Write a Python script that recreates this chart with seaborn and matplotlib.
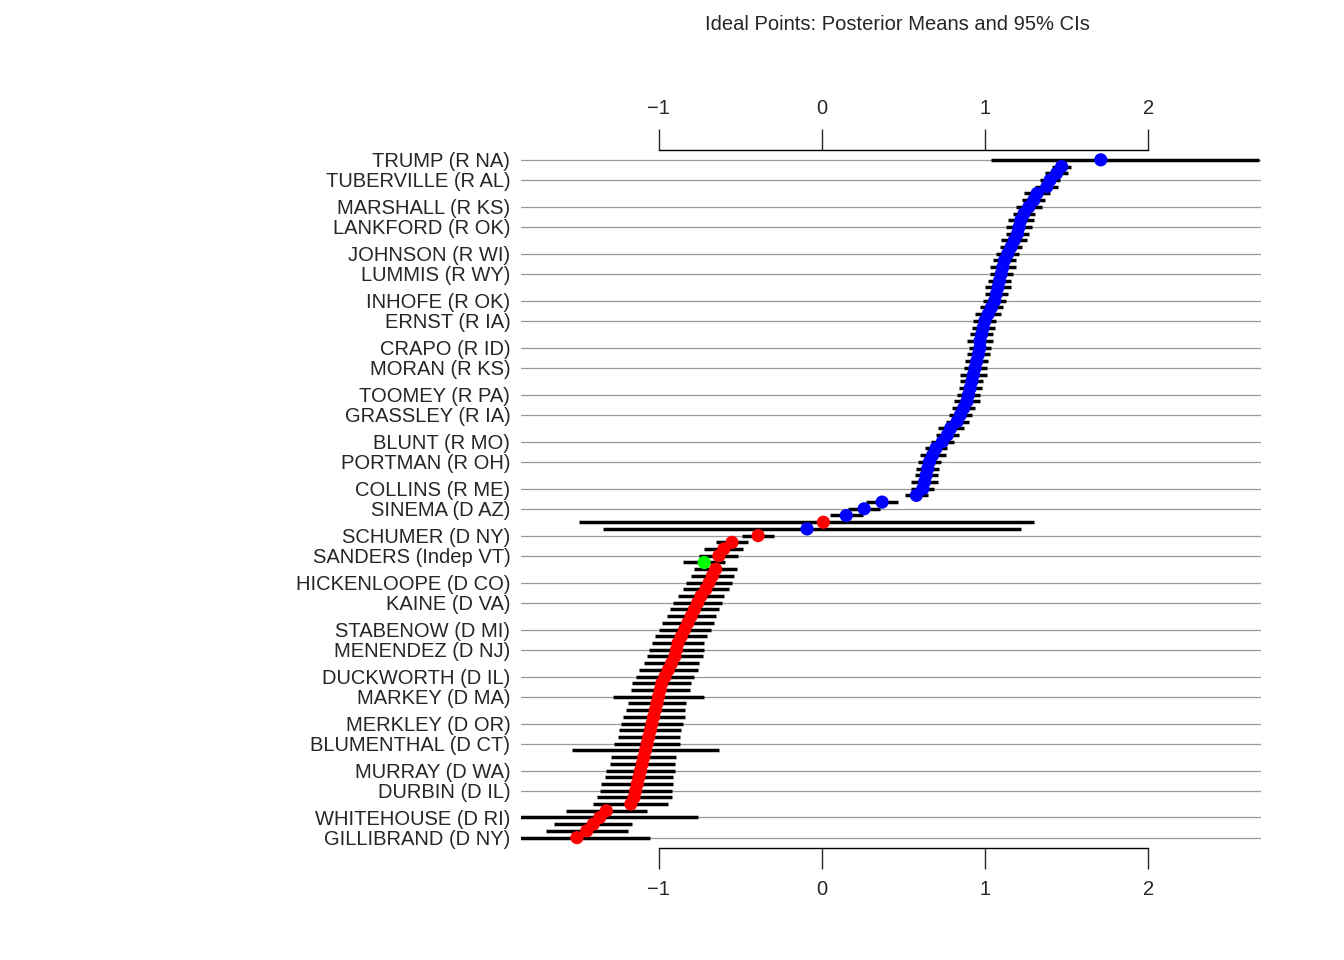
import matplotlib
matplotlib.use("Agg")
import matplotlib.pyplot as plt
import seaborn as sns
import pandas as pd
import numpy as np

# ── Data (top of chart first) ──────────────────────────────────
means = [1.71,
         1.47, 1.44, 1.40, 1.38, 1.32, 1.30, 1.27, 1.24, 1.22, 1.21,
         1.20, 1.18, 1.16, 1.14, 1.12, 1.11, 1.10, 1.09, 1.08, 1.07,
         1.06, 1.04, 1.02, 1.00, 0.99, 0.98, 0.97, 0.97, 0.96, 0.95,
         0.94, 0.93, 0.92, 0.91, 0.90, 0.89, 0.87, 0.85, 0.83, 0.79,
         0.77, 0.74, 0.70, 0.68, 0.66, 0.65, 0.64, 0.63, 0.62, 0.58,
         0.37, 0.26, 0.15, 0.01, -0.09, -0.39,
         -0.55, -0.60, -0.63, -0.72, -0.65, -0.67, -0.69, -0.71, -0.74, -0.76,
         -0.78, -0.80, -0.82, -0.84, -0.86, -0.88, -0.89, -0.90, -0.92, -0.94,
         -0.96, -0.98, -0.99, -1.00, -1.01, -1.02, -1.03, -1.04, -1.05, -1.06,
         -1.07, -1.08, -1.09, -1.10, -1.11, -1.12, -1.13, -1.14, -1.15, -1.17,
         -1.32, -1.36, -1.40, -1.44, -1.50]
halfwidth = [0.0,
             0.06, 0.07, 0.06, 0.07, 0.08, 0.07, 0.08, 0.07, 0.08, 0.08,
             0.07, 0.08, 0.07, 0.07, 0.07, 0.08, 0.07, 0.07, 0.08, 0.07,
             0.07, 0.07, 0.08, 0.07, 0.07, 0.07, 0.08, 0.07, 0.07, 0.07,
             0.07, 0.08, 0.07, 0.07, 0.07, 0.08, 0.07, 0.07, 0.07, 0.08,
             0.07, 0.07, 0.07, 0.08, 0.07, 0.07, 0.07, 0.08, 0.07, 0.07,
             0.10, 0.10, 0.10, 0.0, 0.0, 0.10,
             0.10, 0.12, 0.12, 0.13, 0.13, 0.13, 0.14, 0.14, 0.14, 0.15,
             0.15, 0.15, 0.16, 0.16, 0.16, 0.16, 0.17, 0.17, 0.17, 0.18,
             0.18, 0.18, 0.18, 0.28, 0.18, 0.18, 0.19, 0.19, 0.19, 0.19,
             0.20, 0.45, 0.20, 0.20, 0.21, 0.21, 0.22, 0.22, 0.23, 0.23,
             0.25, 0.60, 0.24, 0.25, 0.45]
# points with asymmetric/wide intervals: (index, low, high)
wide_ci = [(0, 1.04, 2.68), (54, -1.49, 1.30), (55, -1.34, 1.22)]
party = ["R"] * 54 + ["D", "R", "D"] + ["D"] * 3 + ["I"] + ["D"] * 41

labels = ["TRUMP (R NA)", "TUBERVILLE (R AL)", "MARSHALL (R KS)", "LANKFORD (R OK)",
          "JOHNSON (R WI)", "LUMMIS (R WY)", "INHOFE (R OK)", "ERNST (R IA)",
          "CRAPO (R ID)", "MORAN (R KS)", "TOOMEY (R PA)", "GRASSLEY (R IA)",
          "BLUNT (R MO)", "PORTMAN (R OH)", "COLLINS (R ME)", "SINEMA (D AZ)",
          "SCHUMER (D NY)", "SANDERS (Indep VT)", "HICKENLOOPE (D CO)", "KAINE (D VA)",
          "STABENOW (D MI)", "MENENDEZ (D NJ)", "DUCKWORTH (D IL)", "MARKEY (D MA)",
          "MERKLEY (D OR)", "BLUMENTHAL (D CT)", "MURRAY (D WA)", "DURBIN (D IL)",
          "WHITEHOUSE (D RI)", "GILLIBRAND (D NY)"]

n = len(means)
df = pd.DataFrame({"mean": means, "hw": halfwidth, "party": party})
df["pos"] = np.arange(n)
df["lo"] = df["mean"] - df["hw"]
df["hi"] = df["mean"] + df["hw"]
for i, lo, hi in wide_ci:
    df.loc[i, "lo"] = lo
    df.loc[i, "hi"] = hi

label_pos = [round(k * (n - 1) / (len(labels) - 1)) for k in range(len(labels))]

# ── Plot ───────────────────────────────────────────────────────
sns.set_style("white")
plt.rcParams["font.family"] = ["Liberation Sans", "DejaVu Sans"]

fig = plt.figure(figsize=(13.44, 9.6), dpi=100)
ax = fig.add_axes([0.388, 0.117, 0.55, 0.727])

for p in label_pos:
    ax.axhline(p, color="#999999", lw=0.9, zorder=0)
ax.hlines(df["pos"], df["lo"], df["hi"], color="black", lw=2.5, zorder=1)
sns.scatterplot(data=df, x="mean", y="pos", hue="party",
                palette={"R": "#0000FF", "D": "#FF0000", "I": "#00FF00"},
                s=90, edgecolor="none", legend=False, ax=ax, zorder=2)

ax.set_xlim(-1.84, 2.69)
ax.set_ylim(n - 1 + 1.5, -1.5)
ax.set_yticks(label_pos)
ax.set_yticklabels(labels, fontsize=14.5)
ax.tick_params(axis="y", length=0, pad=8)
ax.set_xticks([-1, 0, 1, 2])
ax.tick_params(axis="x", labelsize=14.5, length=15, width=1, direction="out",
               top=True, labeltop=True, bottom=True, labelbottom=True, pad=8)
ax.set_xlabel("")
ax.set_ylabel("")
for s in ["left", "right"]:
    ax.spines[s].set_visible(False)
for s in ["top", "bottom"]:
    ax.spines[s].set_bounds(-1, 2)
    ax.spines[s].set_linewidth(1)
    ax.spines[s].set_color("black")

fig.text(0.668, 0.974, "Ideal Points: Posterior Means and 95% CIs",
         ha="center", va="center", fontsize=14.5)

plt.savefig("out.png", dpi=100)
